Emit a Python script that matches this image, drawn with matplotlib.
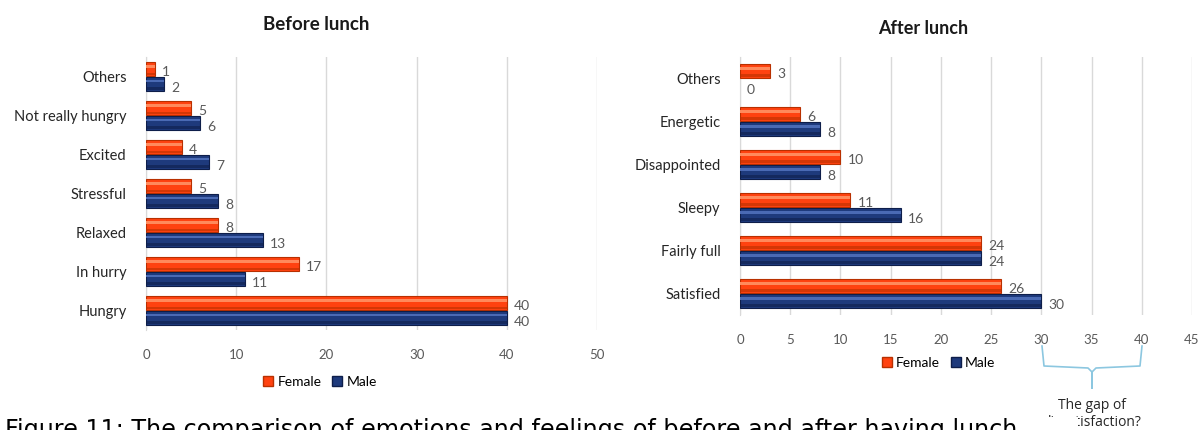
import numpy as np
import matplotlib.pyplot as plt
from matplotlib.patches import Patch, Rectangle

plt.rcParams['font.family'] = ['Lato', 'DejaVu Sans']

# counts per feeling, listed from the bottom row up
before_cats = ['Hungry', 'In hurry', 'Relaxed', 'Stressful', 'Excited', 'Not really hungry', 'Others']
before_female = [40, 17, 8, 5, 4, 5, 1]
before_male = [40, 11, 13, 8, 7, 6, 2]

after_cats = ['Satisfied', 'Fairly full', 'Sleepy', 'Disappointed', 'Energetic', 'Others']
after_female = [26, 24, 11, 10, 6, 3]
after_male = [30, 24, 16, 8, 8, 0]

female_col = '#FF4210'
female_hi = '#FF8A5C'
female_dk = '#B83000'
male_col = '#1E3A7C'
male_hi = '#4A6AB4'
male_dk = '#0E1E4A'

W, H = 1202, 430
fig = plt.figure(figsize=(W / 100, H / 100), dpi=100)


def px_axes(x0, x1, ytop, ybot):
    return fig.add_axes([x0 / W, 1 - ybot / H, (x1 - x0) / W, (ybot - ytop) / H])


def shaded_bars(ax, y, vals, h, base, hi, dk):
    lw = [0.8 if v > 0 else 0 for v in vals]
    ax.barh(y, vals, height=h, color=base, edgecolor=dk, linewidth=lw, zorder=3)
    # glossy strip near the top of each bar
    ax.barh(y + h * 0.22, vals, height=h * 0.22, color=hi, linewidth=0, zorder=4)
    ax.barh(y - h * 0.36, vals, height=h * 0.2, color=dk, linewidth=0, alpha=0.6, zorder=4)


def draw_panel(ax, cats, female, male, xmax, step, h, gap):
    idx = np.arange(len(cats))
    yf = idx + h / 2 + gap / 2
    ym = idx - h / 2 - gap / 2
    shaded_bars(ax, yf, female, h, female_col, female_hi, female_dk)
    shaded_bars(ax, ym, male, h, male_col, male_hi, male_dk)
    for y, v in zip(yf, female):
        ax.annotate(str(v), (v, y), xytext=(5, -2), textcoords='offset points',
                    va='center', ha='left', fontsize=10, color='#595959')
    for y, v in zip(ym, male):
        ax.annotate(str(v), (v, y), xytext=(5, -3), textcoords='offset points',
                    va='center', ha='left', fontsize=10, color='#595959')
    ax.set_xlim(0, xmax)
    ax.set_ylim(-0.5, len(cats) - 0.5)
    ax.set_xticks(np.arange(0, xmax + 1, step))
    ax.set_yticks(idx)
    ax.set_yticklabels(cats, fontsize=10.5, color='#262626')
    ax.tick_params(axis='both', length=0)
    ax.tick_params(axis='x', labelsize=9.5, labelcolor='#595959', pad=14)
    ax.tick_params(axis='y', pad=14)
    ax.grid(axis='x', color='#D9D9D9', linewidth=1, zorder=0)
    ax.set_axisbelow(True)
    for s in ['top', 'right', 'bottom']:
        ax.spines[s].set_visible(False)
    ax.spines['left'].set_color('#D9D9D9')
    ax.legend(handles=[Patch(facecolor=female_col, edgecolor=female_dk, label='Female'),
                       Patch(facecolor=male_col, edgecolor=male_dk, label='Male')],
              loc='center', ncol=2, frameon=False, fontsize=10,
              handlelength=0.7, handleheight=0.7, handletextpad=0.3, columnspacing=0.8)


ax1 = px_axes(146, 597, 57, 330)
draw_panel(ax1, before_cats, before_female, before_male, 50, 10, 0.34, 0.04)
ax1.get_legend().set_bbox_to_anchor((0.386, -0.19))

ax2 = px_axes(740, 1192, 57, 315)
draw_panel(ax2, after_cats, after_female, after_male, 45, 5, 0.31, 0.04)
ax2.get_legend().set_bbox_to_anchor((0.44, -0.186))

fig.text(316 / W, 1 - 25 / H, 'Before lunch', ha='center', va='center',
         fontsize=13.5, fontweight='bold', color='#1A1A1A')
fig.text(923 / W, 1 - 28 / H, 'After lunch', ha='center', va='center',
         fontsize=13, fontweight='bold', color='#1A1A1A')

# brace under 30-40 on the after-lunch axis
bx0, bx1, bmid = 1042, 1142, 1092
brace_x = [bx0, bx0 + 2, bmid - 4, bmid, bmid, bmid, bmid + 4, bx1 - 2, bx1]
brace_y = [346, 366, 368, 372, 388, 372, 368, 366, 346]
fig.add_artist(plt.Line2D([x / W for x in brace_x], [1 - y / H for y in brace_y],
                          color='#8CC7E0', linewidth=1.2))
fig.text(bmid / W, 1 - 398 / H, 'The gap of\ndissatisfaction?', ha='center', va='top',
         fontsize=10, color='#262626', linespacing=1.15, family=['Open Sans', 'DejaVu Sans'])

# caption sits over the lower edge, hiding part of the note
fig.add_artist(Rectangle((1022 / W, 0), 56 / W, 1 - 417 / H, transform=fig.transFigure,
                         facecolor='white', edgecolor='none', zorder=5))
fig.text(5 / W, 1 - 418 / H, 'Figure 11: The comparison of emotions and feelings of before and after having lunch',
         ha='left', va='top', fontsize=17.2, color='black', family='DejaVu Sans', zorder=6)

fig.savefig('out.png', dpi=100)
